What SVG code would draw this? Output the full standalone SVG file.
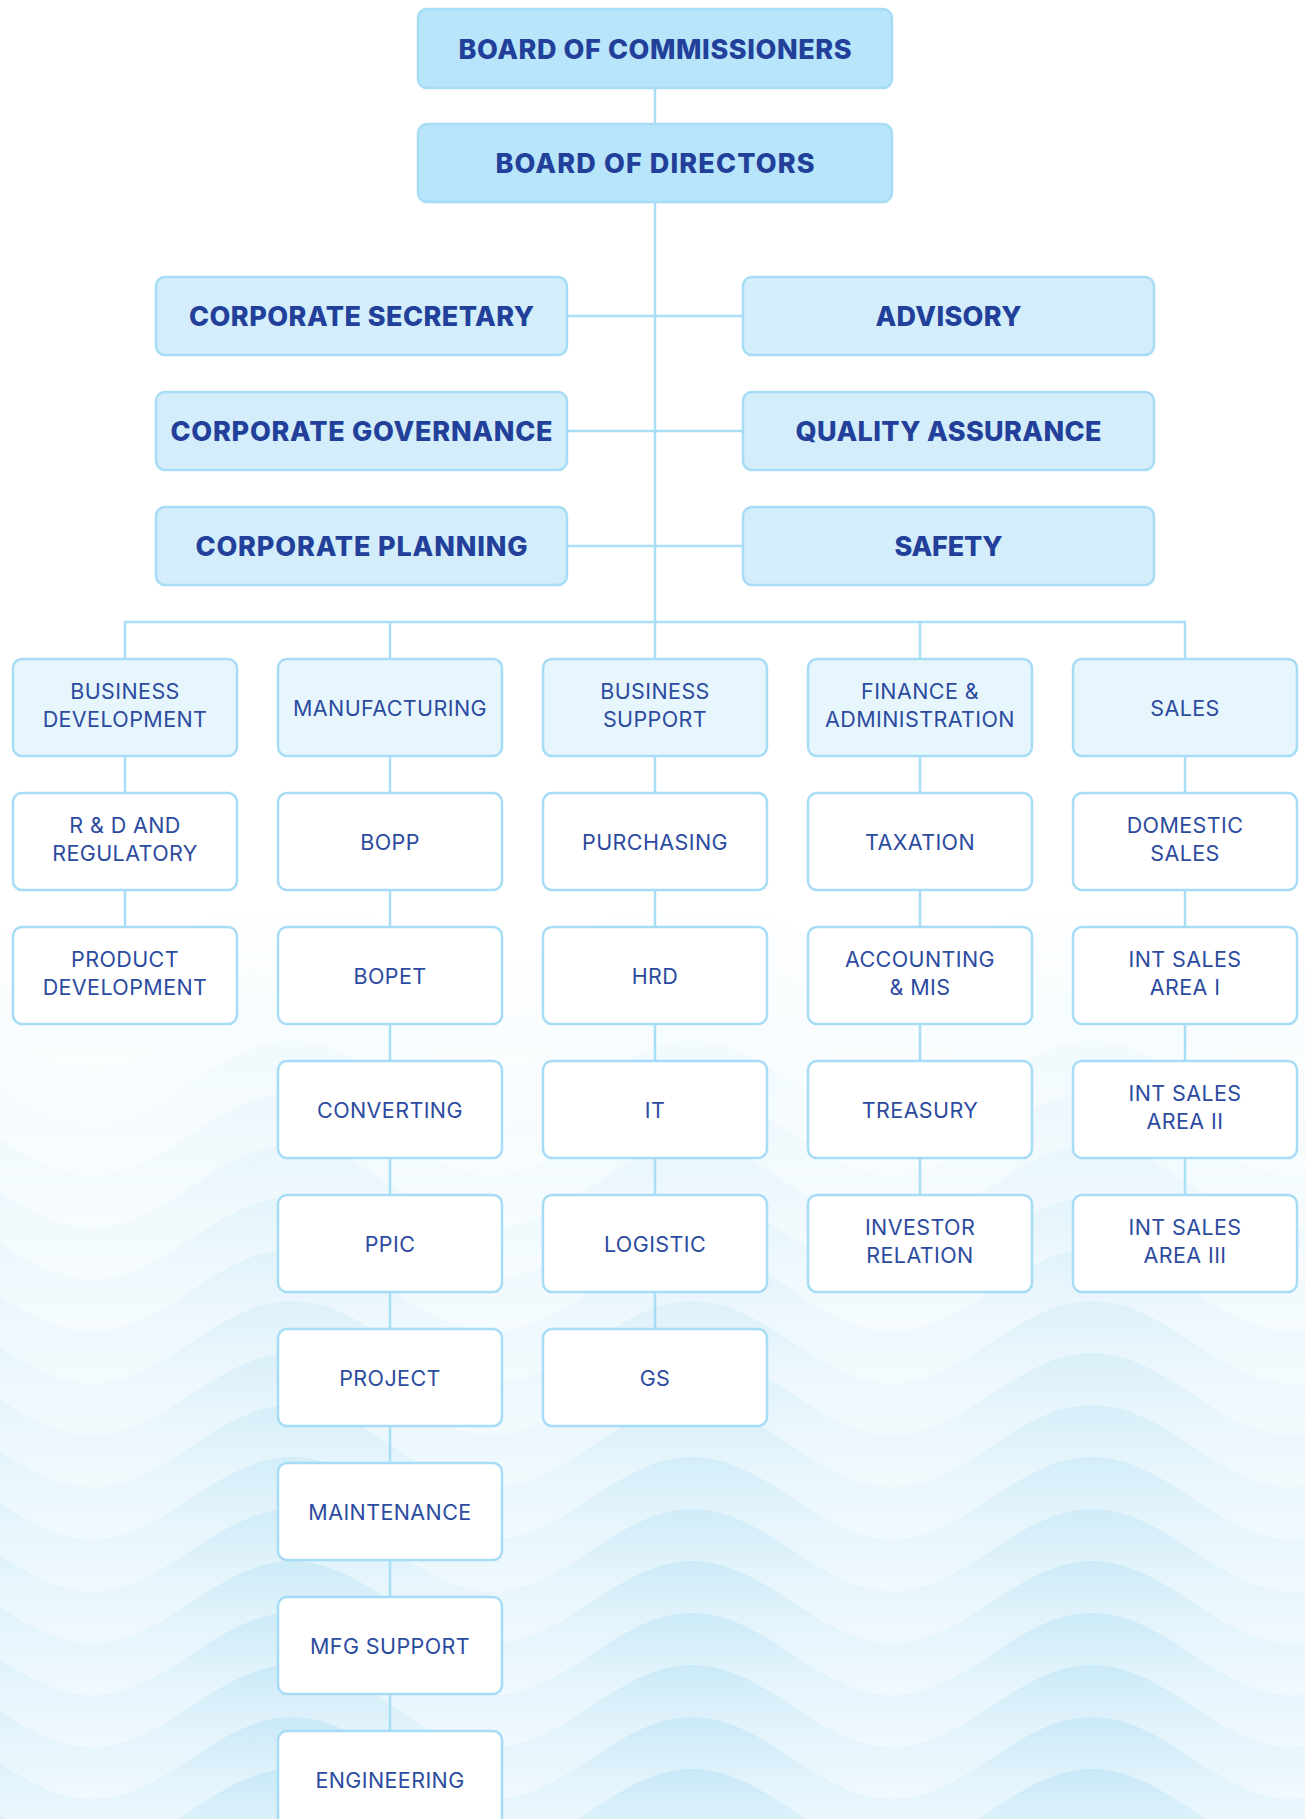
<svg xmlns="http://www.w3.org/2000/svg" xmlns:xlink="http://www.w3.org/1999/xlink" width="1305" height="1819" viewBox="0 0 1305 1819">
  <defs>
    <style>
      .c { fill: none; stroke: #A8DEF6; stroke-width: 2.5; }
      .b1 { fill: #B8E5F9; stroke: #A6DCF5; stroke-width: 2.5; }
      .b2 { fill: #D3EEFA; stroke: #A6DCF5; stroke-width: 2.5; }
      .b3 { fill: #E7F6FD; stroke: #A6DCF5; stroke-width: 2.5; }
      .b4 { fill: #FFFFFF; stroke: #A6DCF5; stroke-width: 2.5; }
      .t1 { font-family: Inter, "Liberation Sans", sans-serif; font-weight: 800; font-size: 27px; fill: #22409A; text-anchor: middle; }
      .t2 { font-family: Inter, "Liberation Sans", sans-serif; font-weight: 400; font-size: 21.5px; letter-spacing: 0.4px; fill: #2C4B9F; text-anchor: middle; }
    </style>
    <linearGradient id="bandFill" x1="0" y1="0" x2="0" y2="1">
      <stop offset="0" stop-color="#C8E9F7"/>
      <stop offset="0.4" stop-color="#E4F4FC"/>
      <stop offset="1" stop-color="#F7FCFF"/>
    </linearGradient>
    <linearGradient id="fade" gradientUnits="userSpaceOnUse" x1="0" y1="0" x2="0" y2="1819">
      <stop offset="0" stop-color="#FFFFFF" stop-opacity="1"/>
      <stop offset="0.5" stop-color="#FFFFFF" stop-opacity="1"/>
      <stop offset="0.66" stop-color="#FFFFFF" stop-opacity="0.5"/>
      <stop offset="0.86" stop-color="#FFFFFF" stop-opacity="0.08"/>
      <stop offset="1" stop-color="#FFFFFF" stop-opacity="0"/>
    </linearGradient>
    <!-- one wave band: crest at y=0, trough at y=82, period 400 -->
    <path id="band" fill="url(#bandFill)" d="M -308 82 C -233 82 -183 0 -108 0 C -33 0 17 82 92 82 C 167 82 217 0 292 0 C 367 0 417 82 492 82 C 567 82 617 0 692 0 C 767 0 817 82 892 82 C 967 82 1017 0 1092 0 C 1167 0 1217 82 1292 82 C 1367 82 1417 0 1492 0 L 1492 170 L -308 170 Z"/>
  </defs>

  <!-- background -->
  <rect x="0" y="0" width="1305" height="1819" fill="#FFFFFF"/>
  <g id="waves">
    <use href="#band" y="885"/>
    <use href="#band" y="937"/>
    <use href="#band" y="989"/>
    <use href="#band" y="1041"/>
    <use href="#band" y="1093"/>
    <use href="#band" y="1145"/>
    <use href="#band" y="1197"/>
    <use href="#band" y="1249"/>
    <use href="#band" y="1301"/>
    <use href="#band" y="1353"/>
    <use href="#band" y="1405"/>
    <use href="#band" y="1457"/>
    <use href="#band" y="1509"/>
    <use href="#band" y="1561"/>
    <use href="#band" y="1613"/>
    <use href="#band" y="1665"/>
    <use href="#band" y="1717"/>
    <use href="#band" y="1769"/>
    <use href="#band" y="1821"/>
  </g>
  <rect x="0" y="0" width="1305" height="1819" fill="url(#fade)"/>

  <!-- connectors -->
  <g id="connectors" class="c">
    <path d="M 655 88 V 124"/>
    <path d="M 655 202 V 659"/>
    <path d="M 567 316 H 743"/>
    <path d="M 567 431 H 743"/>
    <path d="M 567 546 H 743"/>
    <path d="M 125 659 V 622 H 1185 V 659"/>
    <path d="M 390 622 V 659"/>
    <path d="M 920 622 V 659"/>
    <!-- column 1 -->
    <path d="M 125 756 V 793 M 125 890 V 927"/>
    <!-- column 2 -->
    <path d="M 390 756 V 793 M 390 890 V 927 M 390 1024 V 1061 M 390 1158 V 1195 M 390 1292 V 1329 M 390 1426 V 1463 M 390 1560 V 1597 M 390 1694 V 1731"/>
    <!-- column 3 -->
    <path d="M 655 756 V 793 M 655 890 V 927 M 655 1024 V 1061 M 655 1158 V 1195 M 655 1292 V 1329"/>
    <!-- column 4 -->
    <path d="M 920 756 V 793 M 920 890 V 927 M 920 1024 V 1061 M 920 1158 V 1195"/>
    <!-- column 5 -->
    <path d="M 1185 756 V 793 M 1185 890 V 927 M 1185 1024 V 1061 M 1185 1158 V 1195"/>
  </g>

  <!-- boards -->
  <g id="board-of-commissioners">
    <rect class="b1" x="418" y="9" width="474" height="79" rx="9"/>
    <text class="t1" x="655" y="59" textLength="393" lengthAdjust="spacing">BOARD OF COMMISSIONERS</text>
  </g>
  <g id="board-of-directors">
    <rect class="b1" x="418" y="124" width="474" height="78" rx="9"/>
    <text class="t1" x="655" y="173" textLength="319" lengthAdjust="spacing">BOARD OF DIRECTORS</text>
  </g>

  <!-- corporate functions -->
  <g id="corporate-secretary">
    <rect class="b2" x="156" y="277" width="411" height="78" rx="9"/>
    <text class="t1" x="361.5" y="326" textLength="345" lengthAdjust="spacing">CORPORATE SECRETARY</text>
  </g>
  <g id="corporate-governance">
    <rect class="b2" x="156" y="392" width="411" height="78" rx="9"/>
    <text class="t1" x="361.5" y="441" textLength="382" lengthAdjust="spacing">CORPORATE GOVERNANCE</text>
  </g>
  <g id="corporate-planning">
    <rect class="b2" x="156" y="507" width="411" height="78" rx="9"/>
    <text class="t1" x="361.5" y="556" textLength="332" lengthAdjust="spacing">CORPORATE PLANNING</text>
  </g>
  <g id="advisory">
    <rect class="b2" x="743" y="277" width="411" height="78" rx="9"/>
    <text class="t1" x="948.5" y="326" textLength="146" lengthAdjust="spacing">ADVISORY</text>
  </g>
  <g id="quality-assurance">
    <rect class="b2" x="743" y="392" width="411" height="78" rx="9"/>
    <text class="t1" x="948.5" y="441" textLength="306" lengthAdjust="spacing">QUALITY ASSURANCE</text>
  </g>
  <g id="safety">
    <rect class="b2" x="743" y="507" width="411" height="78" rx="9"/>
    <text class="t1" x="948.5" y="556" textLength="108" lengthAdjust="spacing">SAFETY</text>
  </g>

  <!-- divisions -->
  <g id="business-development">
    <rect class="b3" x="13" y="659" width="224" height="97" rx="9"/>
    <text class="t2" x="125" y="699">BUSINESS</text>
    <text class="t2" x="125" y="727">DEVELOPMENT</text>
  </g>
  <g id="manufacturing">
    <rect class="b3" x="278" y="659" width="224" height="97" rx="9"/>
    <text class="t2" x="390" y="716">MANUFACTURING</text>
  </g>
  <g id="business-support">
    <rect class="b3" x="543" y="659" width="224" height="97" rx="9"/>
    <text class="t2" x="655" y="699">BUSINESS</text>
    <text class="t2" x="655" y="727">SUPPORT</text>
  </g>
  <g id="finance-administration">
    <rect class="b3" x="808" y="659" width="224" height="97" rx="9"/>
    <text class="t2" x="920" y="699">FINANCE &amp;</text>
    <text class="t2" x="920" y="727">ADMINISTRATION</text>
  </g>
  <g id="sales">
    <rect class="b3" x="1073" y="659" width="224" height="97" rx="9"/>
    <text class="t2" x="1185" y="716">SALES</text>
  </g>

  <!-- business development units -->
  <g id="rnd-regulatory">
    <rect class="b4" x="13" y="793" width="224" height="97" rx="9"/>
    <text class="t2" x="125" y="833">R &amp; D AND</text>
    <text class="t2" x="125" y="861">REGULATORY</text>
  </g>
  <g id="product-development">
    <rect class="b4" x="13" y="927" width="224" height="97" rx="9"/>
    <text class="t2" x="125" y="967">PRODUCT</text>
    <text class="t2" x="125" y="995">DEVELOPMENT</text>
  </g>

  <!-- manufacturing units -->
  <g id="bopp">
    <rect class="b4" x="278" y="793" width="224" height="97" rx="9"/>
    <text class="t2" x="390" y="850">BOPP</text>
  </g>
  <g id="bopet">
    <rect class="b4" x="278" y="927" width="224" height="97" rx="9"/>
    <text class="t2" x="390" y="984">BOPET</text>
  </g>
  <g id="converting">
    <rect class="b4" x="278" y="1061" width="224" height="97" rx="9"/>
    <text class="t2" x="390" y="1118">CONVERTING</text>
  </g>
  <g id="ppic">
    <rect class="b4" x="278" y="1195" width="224" height="97" rx="9"/>
    <text class="t2" x="390" y="1252">PPIC</text>
  </g>
  <g id="project">
    <rect class="b4" x="278" y="1329" width="224" height="97" rx="9"/>
    <text class="t2" x="390" y="1386">PROJECT</text>
  </g>
  <g id="maintenance">
    <rect class="b4" x="278" y="1463" width="224" height="97" rx="9"/>
    <text class="t2" x="390" y="1520">MAINTENANCE</text>
  </g>
  <g id="mfg-support">
    <rect class="b4" x="278" y="1597" width="224" height="97" rx="9"/>
    <text class="t2" x="390" y="1654">MFG SUPPORT</text>
  </g>
  <g id="engineering">
    <rect class="b4" x="278" y="1731" width="224" height="97" rx="9"/>
    <text class="t2" x="390" y="1788">ENGINEERING</text>
  </g>

  <!-- business support units -->
  <g id="purchasing">
    <rect class="b4" x="543" y="793" width="224" height="97" rx="9"/>
    <text class="t2" x="655" y="850">PURCHASING</text>
  </g>
  <g id="hrd">
    <rect class="b4" x="543" y="927" width="224" height="97" rx="9"/>
    <text class="t2" x="655" y="984">HRD</text>
  </g>
  <g id="it">
    <rect class="b4" x="543" y="1061" width="224" height="97" rx="9"/>
    <text class="t2" x="655" y="1118">IT</text>
  </g>
  <g id="logistic">
    <rect class="b4" x="543" y="1195" width="224" height="97" rx="9"/>
    <text class="t2" x="655" y="1252">LOGISTIC</text>
  </g>
  <g id="gs">
    <rect class="b4" x="543" y="1329" width="224" height="97" rx="9"/>
    <text class="t2" x="655" y="1386">GS</text>
  </g>

  <!-- finance units -->
  <g id="taxation">
    <rect class="b4" x="808" y="793" width="224" height="97" rx="9"/>
    <text class="t2" x="920" y="850">TAXATION</text>
  </g>
  <g id="accounting-mis">
    <rect class="b4" x="808" y="927" width="224" height="97" rx="9"/>
    <text class="t2" x="920" y="967">ACCOUNTING</text>
    <text class="t2" x="920" y="995">&amp; MIS</text>
  </g>
  <g id="treasury">
    <rect class="b4" x="808" y="1061" width="224" height="97" rx="9"/>
    <text class="t2" x="920" y="1118">TREASURY</text>
  </g>
  <g id="investor-relation">
    <rect class="b4" x="808" y="1195" width="224" height="97" rx="9"/>
    <text class="t2" x="920" y="1235">INVESTOR</text>
    <text class="t2" x="920" y="1263">RELATION</text>
  </g>

  <!-- sales units -->
  <g id="domestic-sales">
    <rect class="b4" x="1073" y="793" width="224" height="97" rx="9"/>
    <text class="t2" x="1185" y="833">DOMESTIC</text>
    <text class="t2" x="1185" y="861">SALES</text>
  </g>
  <g id="int-sales-1">
    <rect class="b4" x="1073" y="927" width="224" height="97" rx="9"/>
    <text class="t2" x="1185" y="967">INT SALES</text>
    <text class="t2" x="1185" y="995">AREA I</text>
  </g>
  <g id="int-sales-2">
    <rect class="b4" x="1073" y="1061" width="224" height="97" rx="9"/>
    <text class="t2" x="1185" y="1101">INT SALES</text>
    <text class="t2" x="1185" y="1129">AREA II</text>
  </g>
  <g id="int-sales-3">
    <rect class="b4" x="1073" y="1195" width="224" height="97" rx="9"/>
    <text class="t2" x="1185" y="1235">INT SALES</text>
    <text class="t2" x="1185" y="1263">AREA III</text>
  </g>
</svg>
